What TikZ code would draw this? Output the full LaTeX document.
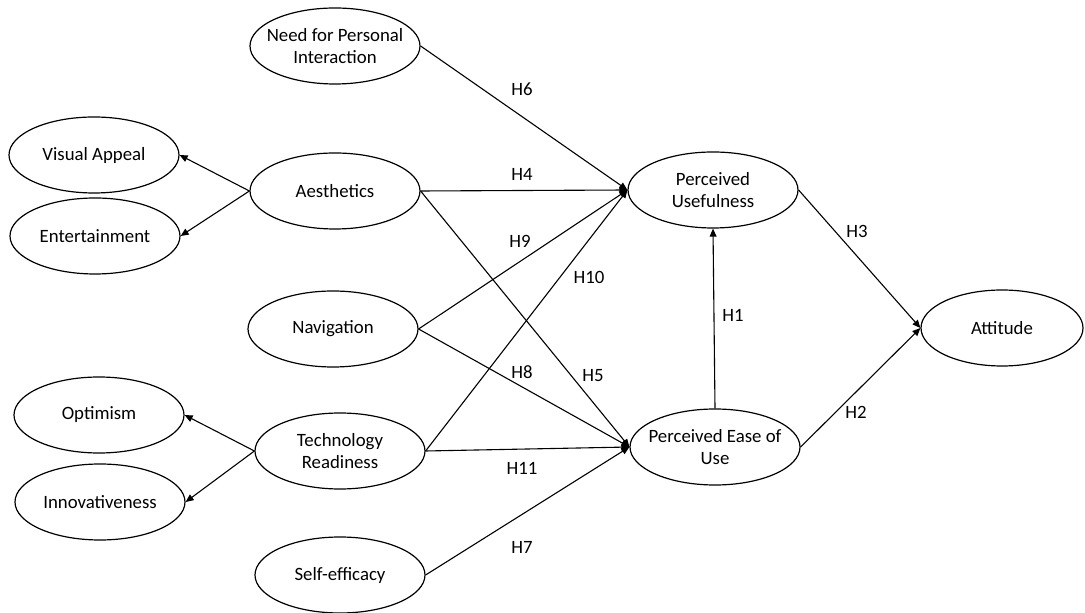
\documentclass[tikz,border=0pt]{standalone}
\usepackage{fontspec}
\setmainfont{Carlito}
\usetikzlibrary{shapes.geometric,arrows.meta}
\tikzset{
  construct/.style={draw,ellipse,line width=0.6pt,minimum width=85pt,minimum height=38pt,inner ysep=0pt,inner xsep=-8pt,align=center},
  path/.style={line width=0.55pt,-{Triangle[length=4pt,width=3.4pt]}},
  hyp/.style={inner sep=0pt}
}
\begin{document}
\begin{tikzpicture}[x=0.5pt,y=-0.5pt,font=\fontsize{9.4}{11}\selectfont]
\useasboundingbox (0,0) rectangle (1085,613);

\node[construct] (npi) at (335,46) {Need for Personal\\Interaction};
\node[construct] (visual) at (94,155) {Visual Appeal};
\node[construct] (enter) at (95,236) {Entertainment};
\node[construct] (aes) at (335,191) {Aesthetics};
\node[construct] (nav) at (333,329) {Navigation};
\node[construct] (optim) at (99,415) {Optimism};
\node[construct] (innov) at (100,502) {Innovativeness};
\node[construct] (tr) at (340,451) {Technology\\Readiness};
\node[construct] (self) at (340,575) {Self-efficacy};

\node[construct] (pu) at (713,190) {Perceived\\Usefulness};
\node[construct] (peou) at (715,447) {Perceived Ease of\\Use};
\node[construct,minimum width=81pt] (att) at (1002,328) {Attitude};

% dimensions
\draw[path] (aes.west) -- (visual.east);
\draw[path] (aes.west) -- (enter.east);
\draw[path] (tr.west) -- (optim.east);
\draw[path] (tr.west) -- (innov.east);

% hypotheses
\draw[path] (npi.east) -- (pu.west);
\draw[path] (aes.east) -- (pu.west);
\draw[path] (aes.east) -- (peou.west);
\draw[path] (nav.east) -- (pu.west);
\draw[path] (nav.east) -- (peou.west);
\draw[path] (tr.east) -- (pu.west);
\draw[path] (tr.east) -- (peou.west);
\draw[path] (self.east) -- (peou.west);
\draw[path] (peou.north) -- (pu.south);
\draw[path] (pu.east) -- (att.west);
\draw[path] (peou.east) -- (att.west);

\node[hyp] (h1) at (733,315) {H1};
\node[hyp] (h2) at (856,412) {H2};
\node[hyp] (h3) at (857,231) {H3};
\node[hyp] (h4) at (522,174) {H4};
\node[hyp] (h5) at (593,376) {H5};
\node[hyp] (h6) at (522,89) {H6};
\node[hyp] (h7) at (522,547) {H7};
\node[hyp] (h8) at (522,372) {H8};
\node[hyp] (h9) at (520,241) {H9};
\node[hyp] (h10) at (589,277) {H10};
\node[hyp] (h11) at (522,468) {H11};
\end{tikzpicture}
\end{document}
